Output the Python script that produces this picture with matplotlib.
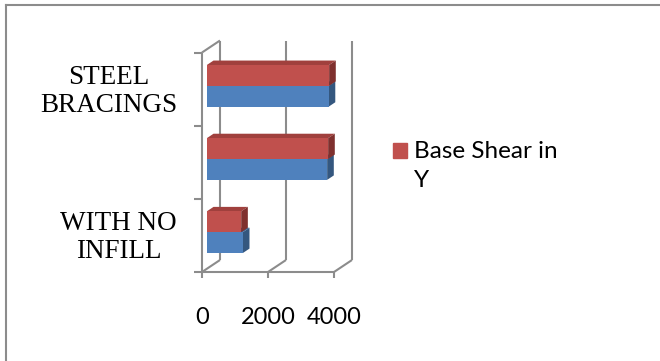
import matplotlib
matplotlib.use("Agg")
import matplotlib.pyplot as plt
from matplotlib.lines import Line2D
from matplotlib.patches import Rectangle

# data
categories = ["WITH NO\nINFILL", "", "STEEL\nBRACINGS"]
shear_x = [1090, 3645, 3690]
shear_y = [1040, 3675, 3705]
legend_label = "Base Shear in\nY"
xticks = [0, 2000, 4000]

# colours
blue_front, blue_top, blue_side = "#4f81bd", "#3d6596", "#34577f"
red_front, red_top, red_side = "#c0504d", "#a0403d", "#7f302e"
grid_col = "#8c8c8c"

W, H = 660, 361
fig = plt.figure(figsize=(W / 100, H / 100), dpi=100)

# front plane of the 3d box in pixels
x0p, x1p, ybot, ytop = 202, 334, 272, 52.5
ax = fig.add_axes([x0p / W, (H - ybot) / H, (x1p - x0p) / W, (ybot - ytop) / H])
ax.set_xlim(0, 4000)
ax.set_ylim(-0.5, 2.5)
ax.axis("off")

# depth of the box in data units
dx = 18 / (x1p - x0p) * 4000
dy = 12 / (ybot - ytop) * 3
lw = 1.5

def seg(xs, ys):
    ax.add_line(Line2D(xs, ys, color=grid_col, lw=lw, clip_on=False,
                       solid_capstyle="butt", zorder=1))

# walls and floor
ymin, ymax = -0.5, 2.5
seg([0, 0], [ymin, ymax])
seg([0, dx], [ymax, ymax + dy])
seg([0, 4000], [ymin, ymin])
for t in xticks:
    seg([t, t + dx], [ymin, ymin + dy])
    seg([t + dx, t + dx], [ymin + dy, ymax + dy])
    seg([t, t], [ymin, ymin - 0.08])
for b in [-0.5, 0.5, 1.5, 2.5]:
    seg([-240, 0], [b, b])

# bars: front face at depth f, thickness d
f, d = 0.27, 0.37
bh = 0.285
sx, sy = f * dx, f * dy
bdx, bdy = d * dx, d * dy

def bar3d(y0, v, front, top, side):
    y1 = y0 + bh
    xl, xr = sx, sx + v
    ax.fill([xl, xl + bdx, xr + bdx, xr], [y1, y1 + bdy, y1 + bdy, y1],
            color=top, lw=0, clip_on=False, zorder=2)
    ax.fill([xr, xr + bdx, xr + bdx, xr], [y0, y0 + bdy, y1 + bdy, y1],
            color=side, lw=0, clip_on=False, zorder=2)
    ax.barh(y0 + bh / 2, v, height=bh, left=xl, color=front, lw=0,
            clip_on=False, zorder=2)

for i in range(len(categories)):
    bar3d(i - bh + sy, shear_x[i], blue_front, blue_top, blue_side)
    bar3d(i + sy, shear_y[i], red_front, red_top, red_side)

# labels
for i, lab in enumerate(categories):
    ax.text(-760, i - 0.03, lab, ha="right", va="center", multialignment="center",
            fontsize=19.5, family="Liberation Serif", linespacing=1.18)
for t in xticks:
    ax.text(t, -0.5 - 46 / 73.2, str(t), ha="center", va="center",
            fontsize=17, family="Lato")

# legend
fig.patches.append(Rectangle((393 / W, 1 - 158 / H), 14 / W, 15 / H,
                             transform=fig.transFigure, color=red_front))
fig.text(414 / W, 1 - 141 / H, legend_label, ha="left", va="top",
         fontsize=17.5, family="Lato", linespacing=1.45)

# chart border (right and bottom fall off the image)
fig.add_artist(Line2D([6 / W, 6 / W], [0, 1 - 5 / H], color=grid_col, lw=1.5,
                      transform=fig.transFigure))
fig.add_artist(Line2D([6 / W, 1], [1 - 5 / H, 1 - 5 / H], color=grid_col, lw=1.5,
                      transform=fig.transFigure))

fig.savefig("out.png", dpi=100)
